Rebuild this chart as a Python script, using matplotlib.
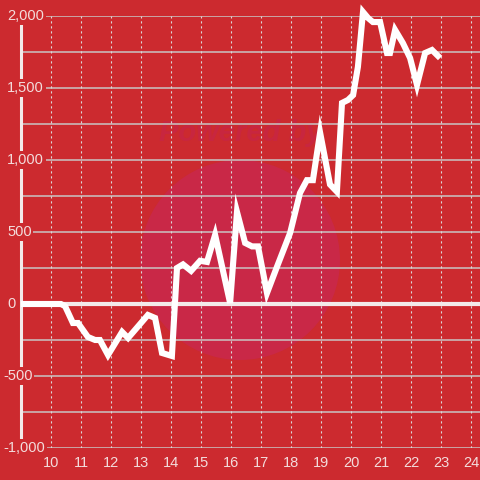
import matplotlib
matplotlib.use("Agg")
import matplotlib.pyplot as plt
from matplotlib.patches import Circle

# ---- data ----
hours = [9.0, 10.0, 10.33, 10.47, 10.73, 10.9, 11.23, 11.47, 11.63, 11.9,
         12.37, 12.57, 13.23, 13.47, 13.7, 14.03, 14.2, 14.4, 14.67, 14.97,
         15.2, 15.47, 15.97, 16.2, 16.47, 16.7, 16.9, 17.2, 17.53, 17.97,
         18.3, 18.53, 18.73, 18.97, 19.3, 19.53, 19.7, 19.9, 20.07, 20.23,
         20.4, 20.57, 20.73, 20.97, 21.2, 21.3, 21.47, 21.73, 21.97, 22.2,
         22.47, 22.7, 22.97]
values = [0, 0, 0, -15, -132, -132, -229, -250, -250, -354,
          -194, -236, -76, -97, -340, -361, 250, 275, 230, 300,
          292, 480, 7, 639, 424, 400, 400, 76, 257, 493,
          771, 860, 860, 1190, 830, 780, 1396, 1417, 1451, 1646,
          2028, 1986, 1958, 1958, 1743, 1743, 1903, 1812, 1708, 1521,
          1743, 1764, 1708]
x_ticks = list(range(10, 25))
y_ticks = [-1000, -500, 0, 500, 1000, 1500, 2000]
y_grid = list(range(-1000, 2001, 250))

BG = "#cc2a2f"
TXT = "#f3dcdc"
GRID = "#c9c4c4"

fig = plt.figure(figsize=(4.8, 4.8), dpi=100, facecolor=BG)
ax = fig.add_axes([21 / 480, 1 - 448 / 480, 1 - 21 / 480, (448 - 16) / 480])
ax.set_facecolor("none")

# watermark (behind everything in the axes)
circ = Circle((0.5, 1 - 260 / 480), 100 / 480, transform=fig.transFigure,
              facecolor="#c92847", edgecolor="none", zorder=0, clip_on=False)
ax.add_patch(circ)
ax.text(0.502, 1 - 133 / 480, "Powered by", transform=fig.transFigure,
        ha="center", va="center", fontsize=21, fontweight="bold",
        fontstyle="italic", family="Liberation Sans", color="#c8263f",
        zorder=0.5, clip_on=False)

ax.set_xlim(9, 9 + (480 - 21) / 30)
ax.set_ylim(-1000, 2000)

# grid
for g in y_grid:
    ax.axhline(g, color=GRID, lw=1.1, zorder=1)
for t in x_ticks:
    ax.plot([t, t], [-1000, 2000], color="#dcd6d6", lw=0.8,
            linestyle=(0, (2, 2.5)), zorder=1)

ax.axhline(0, color="#f3eaea", lw=3, zorder=2)

ax.plot(hours, values, color="white", lw=4.4, solid_joinstyle="miter",
        solid_capstyle="butt", clip_on=False, zorder=3)

for s in ["top", "right", "bottom"]:
    ax.spines[s].set_visible(False)
ax.spines["left"].set_color("#f3eaea")
ax.spines["left"].set_linewidth(2.2)
ax.spines["left"].set_zorder(2)

ax.set_xticks(x_ticks)
ax.set_xticklabels([str(t) for t in x_ticks], fontsize=10.5,
                   family="Liberation Sans", color=TXT)
ax.tick_params(axis="x", length=0, pad=6)
ax.set_yticks([])

tr = ax.get_yaxis_transform()
for v in y_ticks:
    lab = f"{v:,}"
    xpos = (3 - 21) / 459 if v < 0 else (7 - 21) / 459
    ax.text(xpos, v, lab, transform=tr, ha="left", va="center",
            fontsize=10.5, family="Liberation Sans", color=TXT, zorder=5,
            bbox=dict(boxstyle="square,pad=0.12", facecolor=BG, edgecolor="none"))

fig.savefig("out.png", dpi=100, facecolor=BG)
